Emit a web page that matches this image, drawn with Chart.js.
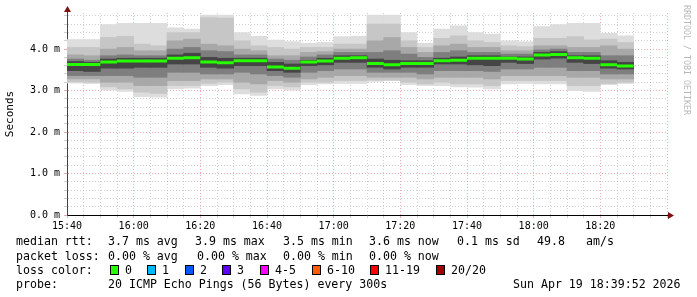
<!DOCTYPE html>
<html>
<head>
<meta charset="utf-8">
<script src="https://cdn.jsdelivr.net/npm/chart.js@4.4.1/dist/chart.umd.min.js"></script>
<style>
  body { margin: 0; background: #fff; }
  #wrap { position: relative; width: 697px; height: 297px; overflow: hidden; }
  canvas { position: absolute; left: 0; top: 0; }
  .t { position: absolute; font-family: "DejaVu Sans Mono", monospace; font-size: 11.6px;
       line-height: 14px; color: #000; white-space: pre; }
  .box { position: absolute; width: 7px; height: 8px; border: 1px solid #000; }
  #credit { position: absolute; left: 682px; top: 5px; writing-mode: vertical-rl;
            font-family: "DejaVu Sans Mono", monospace; font-size: 8.3px; color: #b8b8b8; white-space: pre; }
</style>
</head>
<body>
<div id="wrap">
  <canvas id="chart" width="697" height="297"></canvas>
  <div id="credit">RRDTOOL / TOBI OETIKER</div>
  <div id="legend"></div>
</div>
<script>
// 5 minute bins, start time of each
const binStart = ['15:40','15:45','15:50','15:55','16:00','16:05','16:10','16:15','16:20','16:25',
  '16:30','16:35','16:40','16:45','16:50','16:55','17:00','17:05','17:10','17:15',
  '17:20','17:25','17:30','17:35','17:40','17:45','17:50','17:55','18:00','18:05',
  '18:10','18:15','18:20','18:25'];

// median rtt (ms)
const median = [3.63,3.63,3.69,3.71,3.71,3.71,3.78,3.79,3.69,3.67,3.72,3.72,3.57,3.54,3.69,3.71,3.78,
  3.79,3.65,3.62,3.65,3.65,3.72,3.73,3.78,3.78,3.78,3.76,3.86,3.87,3.79,3.78,3.62,3.59];

// smoke bands, outermost (max/min) to innermost (ms)
const smokeMax = [4.23,4.23,4.59,4.62,4.62,4.62,4.51,4.48,4.82,4.82,4.40,4.31,4.22,4.18,4.14,4.16,4.30,
  4.31,4.82,4.82,4.40,4.14,4.48,4.56,4.40,4.36,4.20,4.18,4.54,4.59,4.62,4.62,4.38,4.32];
const smokeMin = [3.18,3.17,3.01,2.98,2.85,2.84,3.04,3.06,3.12,3.14,2.92,2.88,3.04,3.01,3.14,3.16,3.17,
  3.17,3.22,3.24,3.14,3.12,3.12,3.09,3.08,3.04,3.16,3.17,3.16,3.16,3.00,2.98,3.14,3.17];
const smoke2Hi = [4.04,4.04,4.28,4.31,4.12,4.08,4.40,4.40,4.76,4.75,4.20,4.08,4.04,4.00,4.04,4.04,4.12,
  4.12,4.60,4.60,4.20,4.04,4.26,4.32,4.20,4.16,4.08,4.06,4.26,4.26,4.30,4.22,4.24,4.16];
const smoke2Lo = [3.21,3.20,3.09,3.04,2.96,2.93,3.12,3.12,3.17,3.20,3.04,2.96,3.12,3.09,3.20,3.20,3.24,
  3.24,3.25,3.25,3.20,3.16,3.20,3.16,3.16,3.12,3.24,3.24,3.24,3.24,3.12,3.12,3.17,3.20];
const smoke3Hi = [3.86,3.84,4.00,4.04,3.96,3.96,4.20,4.24,4.12,4.08,4.00,3.96,3.84,3.84,3.92,3.94,4.00,
  4.00,4.20,4.28,4.04,3.92,4.08,4.12,4.04,4.04,3.96,3.96,4.08,4.08,4.04,4.04,4.08,4.00];
const smoke3Lo = [3.28,3.28,3.20,3.20,3.12,3.12,3.24,3.24,3.28,3.28,3.20,3.16,3.24,3.20,3.28,3.32,3.36,
  3.36,3.32,3.32,3.32,3.28,3.32,3.32,3.32,3.28,3.36,3.36,3.36,3.36,3.32,3.32,3.28,3.28];
const smoke4Hi = [3.76,3.73,3.84,3.86,3.84,3.84,4.00,4.04,3.96,3.94,3.86,3.86,3.76,3.73,3.81,3.86,3.92,
  3.92,3.92,3.96,3.88,3.80,3.92,3.96,3.92,3.92,3.88,3.88,3.98,4.00,3.92,3.92,3.84,3.84];
const smoke4Lo = [3.36,3.36,3.36,3.36,3.32,3.32,3.44,3.44,3.40,3.40,3.44,3.40,3.36,3.32,3.44,3.48,3.52,
  3.52,3.44,3.44,3.44,3.40,3.48,3.48,3.48,3.46,3.52,3.52,3.56,3.56,3.48,3.48,3.40,3.40];
const smoke5Hi = [3.70,3.68,3.76,3.78,3.78,3.78,3.86,3.90,3.80,3.78,3.78,3.78,3.68,3.64,3.73,3.78,3.84,
  3.84,3.76,3.73,3.72,3.72,3.78,3.81,3.84,3.84,3.81,3.81,3.92,3.94,3.84,3.84,3.72,3.68];
const smoke5Lo = [3.48,3.46,3.54,3.54,3.56,3.56,3.64,3.64,3.56,3.54,3.60,3.60,3.48,3.44,3.60,3.62,3.68,
  3.68,3.56,3.52,3.56,3.56,3.64,3.64,3.62,3.60,3.68,3.65,3.76,3.78,3.68,3.65,3.54,3.52];

// axis
const xStart = '15:40';
const xSpanMin = 180;
const binMin = 5;
const xTickLabels = ['15:40','16:00','16:20','16:40','17:00','17:20','17:40','18:00','18:20'];
const yMax = 4.87;

// legend text
const legendRows = [
  { y: 241, parts: [[16,'median rtt:'],[108,'3.7 ms avg'],[195,'3.9 ms max'],[283,'3.5 ms min'],
                    [369,'3.6 ms now'],[457,'0.1 ms sd'],[537,'49.8'],[586,'am/s']] },
  { y: 256, parts: [[16,'packet loss:'],[108,'0.00 % avg'],[197,'0.00 % max'],[283,'0.00 % min'],[369,'0.00 % now']] },
  { y: 270, parts: [[16,'loss color:']] },
  { y: 284, parts: [[16,'probe:'],[108,'20 ICMP Echo Pings (56 Bytes) every 300s'],[513,'Sun Apr 19 18:39:52 2026']] }
];
const lossLabels = ['0','1','2','3','4-5','6-10','11-19','20/20'];
const lossColors = ['#26ff00','#00b8ff','#0059ff','#5e00ff','#ff00ff','#ff5e00','#ff0000','#a10000'];
const lossBoxX = [110,147,185,222,260,312,370,436];

function toMin(t) {
  const [h, m] = t.split(':').map(Number);
  return h * 60 + m;
}
const t0 = toMin(xStart);
function fromMin(v) {
  const tot = t0 + v;
  return String(Math.floor(tot / 60)).padStart(2, '0') + ':' + String(tot % 60).padStart(2, '0');
}

const xs = binStart.map(t => toMin(t) - t0);
function band(lo, hi) {
  return xs.map((x, i) => ({ x: x + binMin / 2, y: [lo[i], hi[i]] }));
}
// median as separate flat pieces per bin (no vertical joins, like rrdtool)
const medianPts = [];
xs.forEach((x, i) => {
  medianPts.push({ x: x, y: median[i] }, { x: x + binMin, y: median[i] }, { x: x + binMin, y: null });
});

function barSet(data, color) {
  return { type: 'bar', data: data, backgroundColor: color, borderWidth: 0, grouped: false,
           barPercentage: 1, categoryPercentage: 1 };
}

const minorGrid = 'rgba(150,150,150,0.45)';
const majorGrid = 'rgba(225,70,70,0.45)';
const mono = 'DejaVu Sans Mono';

function isMajorX(c) { return c.tick && c.tick.value % 20 === 0; }
function isMajorY(c) { return c.tick && Math.abs(c.tick.value - Math.round(c.tick.value)) < 1e-6; }

const decor = {
  id: 'decor',
  afterDraw(chart) {
    const { ctx, chartArea: a } = chart;
    ctx.save();
    ctx.fillStyle = '#7f1010';
    ctx.strokeStyle = '#444';
    ctx.lineWidth = 1;
    ctx.beginPath(); ctx.moveTo(a.left + 0.5, a.top); ctx.lineTo(a.left + 0.5, a.top - 3); ctx.stroke();
    ctx.beginPath(); ctx.moveTo(a.left - 3, a.top - 1); ctx.lineTo(a.left + 4, a.top - 1); ctx.lineTo(a.left + 0.5, a.top - 7); ctx.closePath(); ctx.fill();
    ctx.strokeStyle = '#000';
    ctx.beginPath(); ctx.moveTo(a.right, a.bottom + 0.5); ctx.lineTo(a.right + 3, a.bottom + 0.5); ctx.stroke();
    ctx.beginPath(); ctx.moveTo(a.right + 1, a.bottom - 3); ctx.lineTo(a.right + 1, a.bottom + 4); ctx.lineTo(a.right + 7, a.bottom + 0.5); ctx.closePath(); ctx.fill();
    ctx.restore();
  }
};

new Chart(document.getElementById('chart'), {
  data: {
    datasets: [
      { type: 'line', data: medianPts, borderColor: '#26ff00', borderWidth: 3, pointRadius: 0,
        spanGaps: false, tension: 0, borderCapStyle: 'butt' },
      barSet(band(smoke5Lo, smoke5Hi), '#454545'),
      barSet(band(smoke4Lo, smoke4Hi), '#7e7e7e'),
      barSet(band(smoke3Lo, smoke3Hi), '#a8a8a8'),
      barSet(band(smoke2Lo, smoke2Hi), '#c6c6c6'),
      barSet(band(smokeMin, smokeMax), '#dddddd')
    ]
  },
  options: {
    responsive: false,
    devicePixelRatio: 1,
    animation: false,
    layout: { padding: { top: 13, right: 30, left: 0, bottom: 0 } },
    plugins: { legend: { display: false }, tooltip: { enabled: false } },
    scales: {
      x: {
        type: 'linear', min: 0, max: xSpanMin, z: 1, offset: false,
        afterFit: s => { s.height = 82; },
        border: { color: '#000', dash: [1, 2] },
        grid: { color: c => isMajorX(c) ? majorGrid : minorGrid, tickLength: 3, offset: false },
        ticks: {
          stepSize: 5, autoSkip: false, maxRotation: 0, padding: 2, color: '#000',
          font: { family: mono, size: 10 },
          callback: v => xTickLabels.includes(fromMin(v)) && v < xSpanMin ? fromMin(v) : ''
        }
      },
      y: {
        type: 'linear', min: 0, max: yMax, z: 1,
        afterFit: s => { s.width = 67; },
        border: { color: '#444', dash: [1, 2] },
        grid: { color: c => isMajorY(c) ? majorGrid : minorGrid, tickLength: 3 },
        ticks: {
          stepSize: 0.2, includeBounds: false, autoSkip: false, padding: 4, color: '#000',
          font: { family: mono, size: 10 },
          callback: v => Math.abs(v - Math.round(v)) < 1e-6 ? v.toFixed(1) + ' m' : ''
        },
        title: { display: true, text: 'Seconds', color: '#000', font: { family: mono, size: 11 },
                 padding: { top: 3.5, bottom: 0 } }
      }
    }
  },
  plugins: [decor]
});

// legend below the graph
const leg = document.getElementById('legend');
legendRows.forEach(row => {
  row.parts.forEach(([x, txt]) => {
    const s = document.createElement('div');
    s.className = 't';
    s.style.left = x + 'px';
    s.style.top = (row.y - 7) + 'px';
    s.textContent = txt;
    leg.appendChild(s);
  });
});
lossLabels.forEach((lab, i) => {
  const b = document.createElement('div');
  b.className = 'box';
  b.style.left = lossBoxX[i] + 'px';
  b.style.top = '265px';
  b.style.background = lossColors[i];
  leg.appendChild(b);
  const s = document.createElement('div');
  s.className = 't';
  s.style.left = (lossBoxX[i] + 15) + 'px';
  s.style.top = '263px';
  s.textContent = lab;
  leg.appendChild(s);
});
</script>
</body>
</html>
